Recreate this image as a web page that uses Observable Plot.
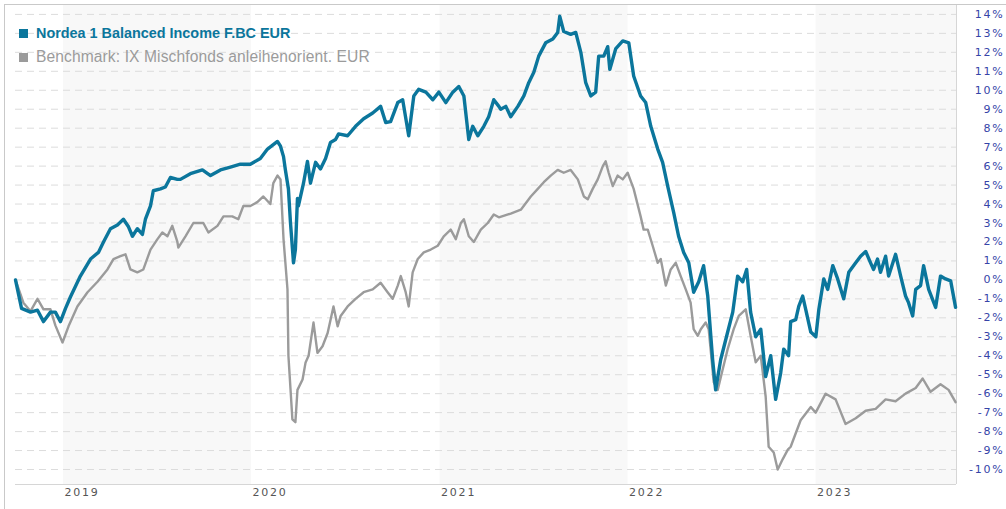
<!DOCTYPE html>
<html>
<head>
<meta charset="utf-8">
<script src="https://cdn.jsdelivr.net/npm/d3@7"></script>
<script src="https://cdn.jsdelivr.net/npm/@observablehq/plot@0.6"></script>
<style>
  html, body { margin: 0; padding: 0; background: #fff; }
  #wrap { position: relative; width: 1006px; height: 509px; overflow: hidden; }
  #wrap svg { position: absolute; left: 0; top: 0; }
  #wrap svg text { letter-spacing: 1.8px; }
  .bl { position: absolute; background: #c9c9c9; }
  #legend { position: absolute; left: 19px; top: 21px; font-family: "Liberation Sans", Arial, sans-serif; line-height: 24px; }
  #legend .it { white-space: nowrap; display: flex; align-items: center; }
  #legend .sw { display: inline-block; width: 9px; height: 9px; margin-right: 8px; }
</style>
</head>
<body>
<div id="wrap">
  <div class="bl" style="left:4px;top:4px;width:1002px;height:1px"></div>
  <div class="bl" style="left:4px;top:4px;width:1px;height:505px"></div>
  <div id="legend"></div>
</div>
<script>
// Series names and colours
const seriesNames = ["Nordea 1 Balanced Income F.BC EUR", "Benchmark: IX Mischfonds anleihenorient. EUR"];
const seriesColors = ["#0b769c", "#9b9b9b"];

// Time as decimal years
const fundT = [2018.745,2018.777,2018.825,2018.862,2018.894,2018.931,2018.957,2018.984,2019.011,2019.037,2019.090,2019.144,2019.186,2019.213,2019.250,2019.287,2019.319,2019.346,2019.367,2019.393,2019.420,2019.436,2019.463,2019.478,2019.516,2019.542,2019.569,2019.606,2019.622,2019.675,2019.739,2019.782,2019.835,2019.888,2019.941,2019.994,2020.047,2020.085,2020.138,2020.154,2020.170,2020.180,2020.196,2020.207,2020.223,2020.233,2020.244,2020.249,2020.276,2020.297,2020.313,2020.340,2020.366,2020.393,2020.419,2020.446,2020.462,2020.510,2020.552,2020.595,2020.643,2020.685,2020.712,2020.738,2020.776,2020.802,2020.834,2020.861,2020.887,2020.925,2020.962,2020.994,2021.031,2021.068,2021.100,2021.127,2021.153,2021.174,2021.201,2021.233,2021.259,2021.286,2021.313,2021.323,2021.350,2021.376,2021.414,2021.446,2021.472,2021.499,2021.525,2021.562,2021.600,2021.626,2021.637,2021.658,2021.695,2021.722,2021.749,2021.775,2021.802,2021.828,2021.844,2021.871,2021.892,2021.903,2021.935,2021.972,2022.004,2022.030,2022.067,2022.094,2022.121,2022.158,2022.184,2022.211,2022.243,2022.269,2022.296,2022.323,2022.349,2022.376,2022.402,2022.424,2022.450,2022.466,2022.493,2022.530,2022.557,2022.583,2022.610,2022.631,2022.652,2022.679,2022.706,2022.732,2022.759,2022.785,2022.812,2022.828,2022.854,2022.865,2022.892,2022.908,2022.929,2022.945,2022.972,2022.999,2023.015,2023.041,2023.062,2023.089,2023.115,2023.147,2023.174,2023.211,2023.237,2023.264,2023.290,2023.306,2023.327,2023.343,2023.370,2023.386,2023.423,2023.450,2023.476,2023.492,2023.514,2023.530,2023.556,2023.572,2023.599,2023.636,2023.662,2023.689,2023.716,2023.742];
const fundV = [0.0,-1.5,-1.7,-1.6,-2.2,-1.7,-1.7,-2.2,-1.5,-0.9,0.2,1.1,1.45,2.0,2.7,2.9,3.2,2.8,2.3,2.7,2.4,3.2,3.9,4.7,4.8,4.9,5.4,5.3,5.3,5.6,5.8,5.5,5.8,5.95,6.1,6.1,6.4,6.9,7.3,7.05,6.5,5.8,4.8,3.0,0.9,1.6,4.3,3.9,5.1,6.25,5.1,6.2,5.85,6.4,7.25,7.4,7.7,7.6,8.1,8.5,8.8,9.15,8.3,8.35,9.35,9.5,7.6,9.7,10.05,9.9,9.5,9.9,9.35,9.9,10.2,9.7,7.4,8.1,7.6,8.1,8.6,9.5,9.15,9.0,9.15,8.6,9.15,9.7,10.4,10.95,11.8,12.5,12.7,13.05,13.9,13.1,12.95,13.05,12.0,10.4,9.7,9.9,11.8,11.8,12.3,11.1,12.2,12.6,12.5,10.75,9.7,9.35,8.1,6.9,6.2,4.95,3.55,2.3,1.45,0.9,-0.65,-0.1,0.75,-0.85,-4.2,-5.8,-4.2,-2.75,-1.7,0.2,-0.1,0.55,-1.7,-3.0,-2.6,-5.1,-4.0,-6.3,-4.9,-3.65,-4.0,-2.2,-2.1,-1.4,-0.85,-1.55,-2.75,-3.0,-1.55,0.05,-0.5,0.75,0.05,-1.0,0.4,0.9,1.25,1.5,0.9,0.55,1.1,0.4,1.25,0.2,1.35,0.2,-0.85,-1.2,-1.9,-0.5,-0.3,0.75,-0.5,-1.45,0.2,0.05,-0.05,-1.45];

const benchT = [2018.745,2018.787,2018.825,2018.862,2018.894,2018.931,2018.957,2018.995,2019.027,2019.074,2019.128,2019.181,2019.234,2019.266,2019.303,2019.330,2019.356,2019.393,2019.425,2019.463,2019.500,2019.526,2019.553,2019.579,2019.606,2019.611,2019.649,2019.691,2019.744,2019.771,2019.819,2019.851,2019.898,2019.930,2019.957,2019.994,2020.031,2020.063,2020.100,2020.116,2020.138,2020.154,2020.170,2020.191,2020.196,2020.217,2020.233,2020.244,2020.271,2020.287,2020.303,2020.329,2020.350,2020.377,2020.404,2020.435,2020.457,2020.473,2020.510,2020.552,2020.595,2020.643,2020.685,2020.722,2020.749,2020.776,2020.792,2020.818,2020.834,2020.855,2020.882,2020.914,2020.951,2020.988,2021.020,2021.057,2021.084,2021.111,2021.127,2021.153,2021.180,2021.217,2021.254,2021.286,2021.313,2021.376,2021.430,2021.483,2021.520,2021.552,2021.589,2021.626,2021.658,2021.695,2021.733,2021.765,2021.786,2021.812,2021.839,2021.866,2021.881,2021.897,2021.919,2021.945,2021.972,2021.998,2022.030,2022.067,2022.083,2022.105,2022.131,2022.158,2022.174,2022.201,2022.227,2022.254,2022.280,2022.307,2022.333,2022.349,2022.371,2022.387,2022.413,2022.429,2022.456,2022.477,2022.504,2022.530,2022.562,2022.589,2022.626,2022.652,2022.679,2022.706,2022.732,2022.748,2022.775,2022.796,2022.823,2022.850,2022.865,2022.918,2022.972,2022.998,2023.051,2023.104,2023.157,2023.211,2023.264,2023.317,2023.370,2023.423,2023.476,2023.530,2023.567,2023.609,2023.662,2023.705,2023.742];
const benchV = [0.0,-1.2,-1.65,-1.0,-1.55,-1.55,-2.4,-3.3,-2.45,-1.4,-0.65,-0.1,0.55,1.1,1.25,1.35,0.55,0.4,0.55,1.6,2.15,2.5,2.3,2.85,2.0,1.7,2.3,3.0,3.0,2.5,2.85,3.35,3.35,3.2,3.9,3.9,4.1,4.4,4.0,5.1,5.5,5.3,2.15,-0.5,-4.0,-7.35,-7.5,-5.8,-5.25,-4.35,-4.0,-2.25,-3.85,-3.5,-2.8,-1.4,-2.45,-1.9,-1.4,-1.0,-0.65,-0.5,-0.15,-0.65,-1.0,-0.3,0.2,-0.65,-1.4,0.4,1.1,1.45,1.6,1.8,2.3,2.65,2.15,3.0,3.2,2.3,2.0,2.65,3.0,3.45,3.3,3.5,3.7,4.4,4.8,5.15,5.5,5.8,5.65,5.8,5.3,4.4,4.25,4.8,5.3,6.0,6.25,5.65,4.95,5.5,5.3,5.65,4.8,3.35,2.65,2.65,1.8,0.9,1.1,-0.3,0.55,0.9,0.2,-0.5,-1.2,-2.6,-2.95,-2.6,-2.25,-2.6,-5.4,-5.8,-4.7,-3.65,-2.6,-1.9,-1.55,-2.95,-4.35,-4.0,-6.15,-8.8,-9.1,-10.0,-9.45,-8.95,-8.8,-7.4,-6.7,-7.0,-6.0,-6.3,-7.6,-7.3,-6.9,-6.8,-6.3,-6.4,-6.0,-5.7,-5.2,-5.9,-5.5,-5.8,-6.45];

// Axis ticks and background bands
const yTicks = [-10,-9,-8,-7,-6,-5,-4,-3,-2,-1,0,1,2,3,4,5,6,7,8,9,10,11,12,13,14];
const xTickYears = [2019, 2020, 2021, 2022, 2023];
const shadedYears = [2019, 2021, 2023];
const xStart = 2018.745, xEnd = 2023.747;
const yMin = -10.79, yMax = 14.47;

function toDate(t) {
  const y = Math.floor(t);
  const a = Date.UTC(y, 0, 1), b = Date.UTC(y + 1, 0, 1);
  return new Date(a + (t - y) * (b - a));
}

const fund = fundT.map((t, i) => ({date: toDate(t), value: fundV[i]}));
const bench = benchT.map((t, i) => ({date: toDate(t), value: benchV[i]}));
const bands = shadedYears.map(y => ({x1: toDate(y), x2: toDate(y + 1)}));
const yearTicks = xTickYears.map(y => toDate(y));

const chart = Plot.plot({
  width: 1006,
  height: 509,
  marginLeft: 15,
  marginRight: 50,
  marginTop: 5,
  marginBottom: 25,
  style: {fontFamily: "DejaVu Sans, Verdana, sans-serif", background: "transparent"},
  x: {type: "utc", domain: [toDate(xStart), toDate(xEnd)]},
  y: {domain: [yMin, yMax]},
  marks: [
    Plot.rect(bands, {x1: "x1", x2: "x2", fill: "#f8f8f8", clip: true}),
    Plot.ruleY(yTicks, {stroke: "#dcdcdc", strokeWidth: 1, strokeDasharray: "7,5"}),
    Plot.ruleY([yMin], {stroke: "#d6d6d6"}),
    Plot.ruleX([toDate(xEnd)], {stroke: "#d6d6d6"}),
    Plot.line(bench, {x: "date", y: "value", stroke: seriesColors[1], strokeWidth: 2.4, curve: "linear"}),
    Plot.line(fund, {x: "date", y: "value", stroke: seriesColors[0], strokeWidth: 3.4, curve: "linear"}),
    Plot.axisX({ticks: yearTicks, tickFormat: d => String(d.getUTCFullYear()), textAnchor: "start", tickSize: 0, tickPadding: 4, dx: 1, fill: "#555", fontSize: 11, label: null}),
    Plot.axisY({ticks: yTicks, anchor: "right", tickSize: 0, tickPadding: 0, textAnchor: "end", dx: 48, tickFormat: d => d + "%", fill: "#3544a8", fontSize: 11, label: null})
  ]
});
document.getElementById("wrap").insertBefore(chart, document.getElementById("legend"));

const legend = document.getElementById("legend");
seriesNames.forEach((n, i) => {
  const it = document.createElement("div");
  it.className = "it";
  it.style.color = seriesColors[i];
  if (i === 0) { it.style.fontWeight = "bold"; it.style.fontSize = "14.4px"; }
  else { it.style.fontSize = "15.6px"; it.style.letterSpacing = "0.1px"; }
  const sw = document.createElement("span");
  sw.className = "sw";
  sw.style.background = seriesColors[i];
  it.appendChild(sw);
  it.appendChild(document.createTextNode(n));
  legend.appendChild(it);
});
</script>
</body>
</html>
